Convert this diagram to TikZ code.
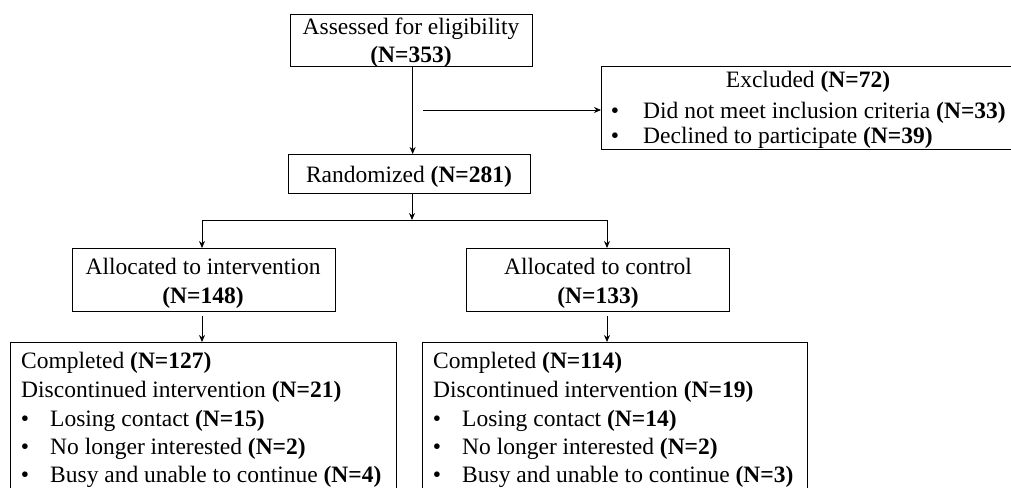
\documentclass[tikz,border=0pt]{standalone}
\usepackage{fontspec}
\setmainfont{Liberation Serif}
\usetikzlibrary{arrows.meta}
\tikzset{
  box/.style={draw, line width=1.3pt, inner sep=0pt, anchor=north west},
  txt/.style={inner sep=0pt, font=\fontsize{23.5}{28}\selectfont},
  arr/.style={-{Stealth[length=7pt,width=6pt]}, line width=0.8pt},
  conn/.style={line width=0.8pt}
}
\newcommand{\bN}[1]{\textbf{(N=#1)}}
\begin{document}
\begin{tikzpicture}[x=1pt,y=-1pt]
\useasboundingbox (0,0) rectangle (1011,487);
\clip (0,0) rectangle (1011,487);
% boxes
\node[box, minimum width=242pt, minimum height=52pt] (assess) at (290,14) {};
\node[box, minimum width=430pt, minimum height=83pt] (excl) at (601,66) {};
\node[box, minimum width=242pt, minimum height=39pt] (rand) at (288,154) {};
\node[box, minimum width=263pt, minimum height=63pt] (allocI) at (72,248) {};
\node[box, minimum width=263pt, minimum height=63pt] (allocC) at (466,248) {};
\node[box, minimum width=386pt, minimum height=170pt] (compI) at (10,342) {};
\node[box, minimum width=385pt, minimum height=170pt] (compC) at (422,342) {};
% texts
\node[txt, anchor=base] (t1) at (411,35) {Assessed for eligibility};
\node[txt, anchor=base] (t2) at (411,63) {\bN{353}};
\node[txt, anchor=base] (e1) at (808,87) {Excluded \bN{72}};
\node[txt, anchor=base] (e2b) at (615,118) {•};
\node[txt, anchor=base west] (e2) at (643,118) {Did not meet inclusion criteria \bN{33}};
\node[txt, anchor=base] (e3b) at (615,143) {•};
\node[txt, anchor=base west] (e3) at (643,143) {Declined to participate \bN{39}};
\node[txt, anchor=base] (r1) at (409,182) {Randomized \bN{281}};
\node[txt, anchor=base] (a1) at (203,274) {Allocated to intervention};
\node[txt, anchor=base] (a2) at (203,303) {\bN{148}};
\node[txt, anchor=base] (c1) at (598,274) {Allocated to control};
\node[txt, anchor=base] (c2) at (598,303) {\bN{133}};
% bottom left
\node[txt, anchor=base west] (l1) at (21,368) {Completed \bN{127}};
\node[txt, anchor=base west] (l2) at (21,397) {Discontinued intervention \bN{21}};
\node[txt, anchor=base] (l3b) at (25,426) {•};
\node[txt, anchor=base west] (l3) at (50,426) {Losing contact \bN{15}};
\node[txt, anchor=base] (l4b) at (25,454) {•};
\node[txt, anchor=base west] (l4) at (50,454) {No longer interested \bN{2}};
\node[txt, anchor=base] (l5b) at (25,482) {•};
\node[txt, anchor=base west] (l5) at (50,482) {Busy and unable to continue \bN{4}};
% bottom right
\node[txt, anchor=base west] (m1) at (433,368) {Completed \bN{114}};
\node[txt, anchor=base west] (m2) at (433,397) {Discontinued intervention \bN{19}};
\node[txt, anchor=base] (m3b) at (437,426) {•};
\node[txt, anchor=base west] (m3) at (462,426) {Losing contact \bN{14}};
\node[txt, anchor=base] (m4b) at (437,454) {•};
\node[txt, anchor=base west] (m4) at (462,454) {No longer interested \bN{2}};
\node[txt, anchor=base] (m5b) at (437,482) {•};
\node[txt, anchor=base west] (m5) at (462,482) {Busy and unable to continue \bN{3}};
% connectors
\coordinate (ex0) at (423,110);
\coordinate (split) at (412,220);
\coordinate (L) at (202,220);
\coordinate (R) at (607,220);
\draw[arr] ([xshift=1pt]assess.south) -- ([xshift=1pt]assess.south |- rand.north);
\draw[arr] (ex0) -- (ex0 -| excl.west);
\draw[arr] (rand.south -| split) -- (split);
\draw[conn] (L) -- (R);
\draw[arr] (L) -- (L |- allocI.north);
\draw[arr] (R) -- (R |- allocC.north);
\draw[arr] ([yshift=-4pt]allocI.south -| L) -- (L |- compI.north);
\draw[arr] ([yshift=-4pt]allocC.south -| R) -- (R |- compC.north);
\end{tikzpicture}
\end{document}
